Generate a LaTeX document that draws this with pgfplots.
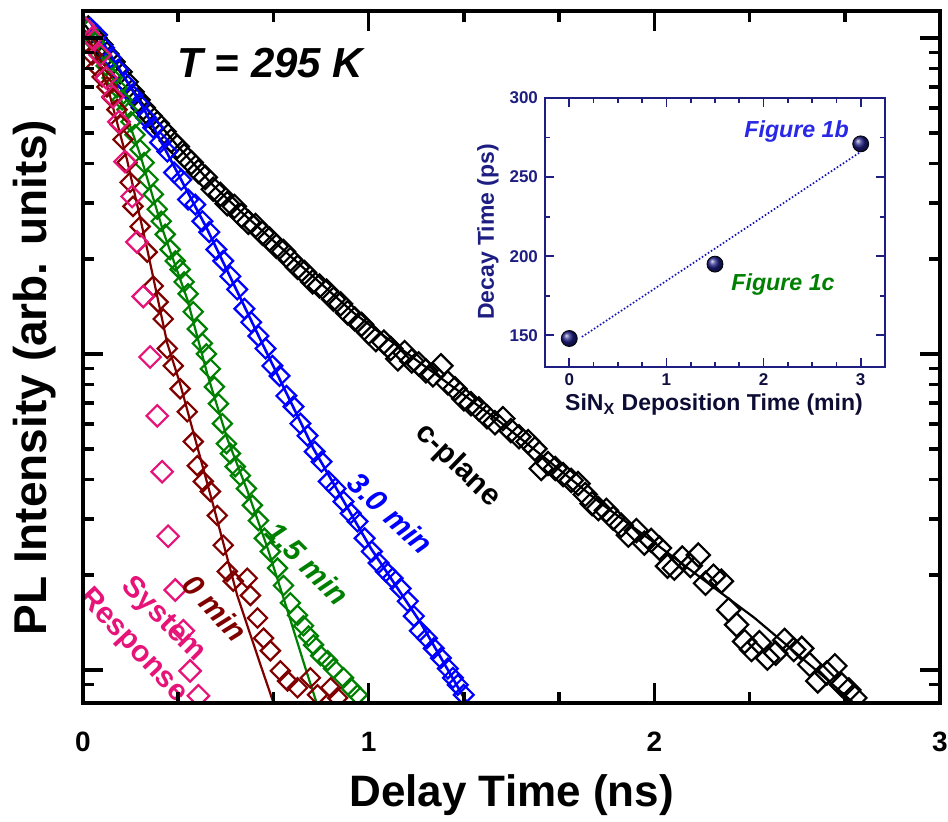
\documentclass[border=0pt]{standalone}
\usepackage{fontspec}
\setmainfont{Liberation Sans}
\usepackage{pgfplots}
\pgfplotsset{compat=1.18}
\definecolor{cblue}{RGB}{0,0,255}
\definecolor{cgreen}{RGB}{0,128,0}
\definecolor{cred}{RGB}{128,0,0}
\definecolor{cpink}{RGB}{230,20,120}
\definecolor{navy}{RGB}{30,30,130}
\definecolor{figblue}{RGB}{40,40,230}
\begin{document}
\begin{tikzpicture}
\begin{axis}[
  at={(0,0)}, anchor=south west,
  scale only axis, width=428.5pt, height=346pt,
  xmin=0, xmax=3, ymode=log, ymin=0.786, ymax=121.7,
  xtick={0,1,2,3}, minor x tick num=2,
  ytick={1,10,100}, yticklabels={},
  minor ytick={0.9,2,3,4,5,6,7,8,9,20,30,40,50,60,70,80,90},
  major tick length=10pt, minor tick length=5.5pt,
  tick style={black, line width=1.8pt},
  axis line style={line width=2pt},
  tick align=inside,
  /pgf/number format/assume math mode=true,
  xticklabel style={font=\fontsize{14}{14}\selectfont\bfseries, yshift=-11pt},
  xlabel={Delay Time (ns)}, ylabel={PL Intensity (arb. units)},
  xlabel style={font=\fontsize{22}{22}\selectfont\bfseries, at={(axis description cs:0.5,-0.133)}, anchor=center},
  ylabel style={font=\fontsize{23}{23}\selectfont\bfseries, at={(axis description cs:-0.056,0.47)}, anchor=center},
  clip marker paths=true,
  axis on top,
]
% c-plane
\addplot[only marks, mark=square, mark size=4.1pt, mark options={rotate=45, line width=1.1pt, black}] coordinates {
(0.018,107.5)(0.042,100)(0.063,95.1)(0.084,89.0)(0.105,84.0)(0.130,78.1)(0.151,72.6)(0.172,67.5)(0.193,63.7)(0.211,60.1)(0.235,56.7)(0.260,53.6)(0.284,50.5)(0.309,47.3)(0.330,45.3)(0.354,42.4)(0.379,40.3)(0.404,37.8)(0.428,36.2)(0.456,33.2)(0.481,32.0)(0.505,29.9)(0.530,29.3)(0.554,27.4)(0.579,26.1)(0.604,25.5)(0.628,24.1)(0.653,23.1)(0.677,21.9)(0.702,21.1)(0.726,19.9)(0.751,18.8)(0.775,18.1)(0.804,16.9)(0.828,16.4)(0.853,15.8)(0.877,14.9)(0.902,14.4)(0.926,13.5)(0.951,12.9)(0.975,12.4)(1.000,11.7)(1.025,11.1)(1.053,10.9)(1.077,10.4)(1.102,9.65)(1.126,10.1)(1.151,9.50)(1.175,9.30)(1.200,8.84)(1.225,8.59)(1.253,9.17)(1.277,8.10)(1.302,7.76)(1.333,7.21)(1.358,6.96)(1.386,6.70)(1.414,6.33)(1.442,6.06)(1.470,6.24)(1.498,5.72)(1.526,5.47)(1.558,5.28)(1.582,5.01)(1.604,4.34)(1.628,4.50)(1.653,4.34)(1.681,4.15)(1.709,3.98)(1.733,3.89)(1.758,3.59)(1.782,3.36)(1.804,3.24)(1.832,3.20)(1.856,3.02)(1.884,2.87)(1.909,2.67)(1.937,2.76)(1.965,2.52)(1.989,2.57)(2.018,2.43)(2.046,2.13)(2.070,2.10)(2.098,2.26)(2.126,2.14)(2.154,2.31)(2.179,1.88)(2.207,1.98)(2.235,1.91)(2.260,1.55)(2.288,1.39)(2.316,1.23)(2.340,1.16)(2.368,1.22)(2.396,1.09)(2.425,1.13)(2.456,1.24)(2.488,1.16)(2.516,1.17)(2.544,1.04)(2.572,0.923)(2.604,0.978)(2.632,1.03)(2.656,0.897)(2.681,0.865)(2.702,0.816)};
\addplot[black, line width=1.1pt] coordinates {
(0.007,109.9)(0.060,95.1)(0.130,78.1)(0.211,61.5)(0.330,45.6)(0.456,34.1)(0.551,28.3)(0.646,23.7)(0.761,19.1)(0.947,13.5)(1.112,10.4)(1.333,7.42)(1.463,6.06)(1.628,4.60)(1.814,3.36)(1.989,2.57)(2.165,1.95)(2.351,1.46)(2.435,1.26)(2.586,0.964)(2.698,0.786)};
% 3.0 min
\addplot[only marks, mark=square, mark size=3.5pt, mark options={rotate=45, line width=1.1pt, cblue}] coordinates {
(0.025,107.5)(0.049,102.2)(0.074,93.0)(0.098,86.5)(0.123,79.3)(0.147,72.1)(0.172,66.1)(0.196,61.9)(0.221,55.9)(0.246,52.0)(0.270,46.7)(0.295,43.7)(0.319,37.5)(0.344,35.6)(0.368,30.8)(0.393,29.7)(0.418,26.3)(0.442,24.3)(0.467,21.4)(0.491,19.7)(0.516,17.6)(0.540,16.0)(0.565,13.9)(0.589,12.6)(0.614,11.4)(0.639,10.4)(0.663,9.17)(0.688,8.52)(0.712,7.37)(0.737,6.81)(0.761,6.02)(0.786,5.51)(0.811,4.91)(0.835,4.56)(0.860,3.95)(0.884,3.75)(0.912,3.41)(0.937,3.13)(0.961,2.95)(0.986,2.61)(1.011,2.37)(1.035,2.18)(1.060,2.05)(1.084,1.95)(1.112,1.81)(1.137,1.65)(1.158,1.48)(1.179,1.33)(1.204,1.26)(1.228,1.17)(1.253,1.09)(1.277,1.01)(1.295,0.944)(1.312,0.897)(1.333,0.834)};
\addplot[cblue, line width=1.3pt] coordinates {
(0.025,112.3)(0.211,60.1)(0.435,24.8)(0.621,11.1)(0.807,5.01)(1.007,2.43)(1.182,1.41)(1.344,0.787)};
% 1.5 min
\addplot[only marks, mark=square, mark size=3.4pt, mark options={rotate=45, line width=1.1pt, cgreen}] coordinates {
(0.018,106)(0.039,97.1)(0.060,88.4)(0.081,81.6)(0.102,74.8)(0.119,69.6)(0.137,63.7)(0.154,59.3)(0.168,54.3)(0.182,49.4)(0.200,44.3)(0.214,40.3)(0.228,35.6)(0.246,32.0)(0.260,28.7)(0.274,26.3)(0.288,23.9)(0.305,21.4)(0.323,19.7)(0.340,18.5)(0.354,16.9)(0.368,15.5)(0.386,13.6)(0.400,12.0)(0.418,10.8)(0.432,10.0)(0.446,8.97)(0.460,7.87)(0.474,6.96)(0.488,6.02)(0.502,5.20)(0.516,4.84)(0.533,4.40)(0.551,4.12)(0.572,3.75)(0.593,3.32)(0.614,2.97)(0.635,2.61)(0.656,2.37)(0.681,2.10)(0.702,1.85)(0.726,1.63)(0.751,1.49)(0.772,1.38)(0.789,1.28)(0.807,1.20)(0.832,1.11)(0.856,1.07)(0.877,1.01)(0.912,0.944)(0.937,0.878)(0.961,0.834)};
\addplot[cgreen, line width=1.1pt] coordinates {
(0.018,106)(0.119,69.6)(0.200,42.7)(0.281,24.4)(0.365,14.9)(0.435,8.65)(0.505,5.39)(0.575,3.70)(0.646,2.43)(0.716,1.54)(0.779,1.01)(0.818,0.786)};
% 0 min
\addplot[only marks, mark=square, mark size=3.4pt, mark options={rotate=45, line width=1.1pt, cred}] coordinates {
(0.014,96.4)(0.032,88.4)(0.049,81.0)(0.067,75.3)(0.084,70.0)(0.102,64.7)(0.119,59.3)(0.130,53.2)(0.140,47.7)(0.154,40.3)(0.165,34.9)(0.175,29.3)(0.200,25.3)(0.225,21.0)(0.246,16.4)(0.263,14.6)(0.281,12.9)(0.295,10.4)(0.316,9.17)(0.340,7.76)(0.365,6.56)(0.386,5.28)(0.400,4.43)(0.421,3.95)(0.446,3.67)(0.470,3.08)(0.491,2.48)(0.505,2.05)(0.526,1.91)(0.575,1.95)(0.586,1.72)(0.611,1.46)(0.632,1.26)(0.656,1.15)(0.691,0.993)(0.716,0.923)(0.751,0.878)(0.796,0.944)(0.821,0.834)(0.867,0.878)(0.891,0.816)};
\addplot[cred, line width=1.1pt] coordinates {
(0.007,106)(0.084,71.1)(0.154,41.2)(0.225,21.4)(0.295,10.8)(0.340,8.04)(0.456,3.32)(0.540,1.72)(0.621,1.04)(0.667,0.786)};
% system response
\addplot[only marks, mark=square, mark size=3.8pt, mark options={rotate=45, line width=1.1pt, cpink}] coordinates {
(0.007,107.5)(0.032,100)(0.060,88.4)(0.081,74.8)(0.105,65.2)(0.126,54.3)(0.147,40.6)(0.172,31.5)(0.189,22.6)(0.211,15.2)(0.235,9.78)(0.260,6.37)(0.277,4.24)(0.298,2.65)(0.323,1.79)(0.351,1.33)(0.375,0.993)(0.404,0.828)};
% labels
\node[font=\fontsize{21}{21}\selectfont\bfseries\itshape] at (axis cs:0.656,83.4) {T = 295 K};
\node[rotate=-44, font=\fontsize{15}{15}\selectfont\bfseries] at (axis cs:1.312,4.43) {c-plane};
\node[rotate=-43, text=cblue, font=\fontsize{15}{15}\selectfont\bfseries\itshape] at (axis cs:1.077,3.13) {3.0 min};
\node[rotate=-45, text=cgreen, font=\fontsize{15}{15}\selectfont\bfseries\itshape] at (axis cs:0.786,2.18) {1.5 min};
\node[rotate=-47, text=cred, font=\fontsize{15}{15}\selectfont\bfseries\itshape] at (axis cs:0.463,1.57) {0 min};
\node[rotate=-45, text=cpink, font=\fontsize{15}{15}\selectfont\bfseries] at (axis cs:0.281,1.44) {System};
\node[rotate=-47, text=cpink, font=\fontsize{15}{15}\selectfont\bfseries] at (axis cs:0.175,1.19) {Response};
\end{axis}
\begin{axis}[
  at={(231pt,168pt)}, anchor=south west,
  scale only axis, width=170pt, height=134.5pt,
  xmin=-0.25, xmax=3.25, ymin=130, ymax=300,
  xtick={0,1,2,3}, minor x tick num=3,
  ytick={150,200,250,300}, minor y tick num=1,
  axis line style={navy, line width=1pt},
  tick style={navy, line width=0.9pt},
  major tick length=4.5pt, minor tick length=2.5pt,
  tick align=inside,
  /pgf/number format/assume math mode=true,
  yticklabel style={font=\fontsize{8.5}{8.5}\selectfont\bfseries, text=navy},
  xticklabel style={font=\fontsize{8.5}{8.5}\selectfont\bfseries, text=navy!50!black},
  xlabel={SiN\textsubscript{X} Deposition Time (min)},
  ylabel={Decay Time (ps)},
  xlabel style={font=\fontsize{11.5}{11.5}\selectfont\bfseries, text=navy!40!black, at={(axis description cs:0.497,-0.141)}, anchor=center},
  ylabel style={font=\fontsize{11.5}{11.5}\selectfont\bfseries, text=navy, at={(axis description cs:-0.168,0.502)}, anchor=center},
  axis background/.style={fill=white},
]
\addplot[navy!60!blue, densely dotted, line width=0.8pt] coordinates {(0.13,149)(3,266)};
\addplot[only marks, mark=ball, mark size=4pt, ball color=navy] coordinates {(0,148)(1.5,195)(3,271)};
\node[anchor=east, text=figblue, font=\fontsize{11.6}{11.6}\selectfont\bfseries\itshape] at (axis cs:2.95,279) {Figure 1b};
\node[text=cgreen, font=\fontsize{11.6}{11.6}\selectfont\bfseries\itshape] at (axis cs:2.2,182) {Figure 1c};
\end{axis}
\pgfresetboundingbox
\path (-41.5pt,-59.5pt) rectangle (432.5pt,351.5pt);
\end{tikzpicture}
\end{document}
